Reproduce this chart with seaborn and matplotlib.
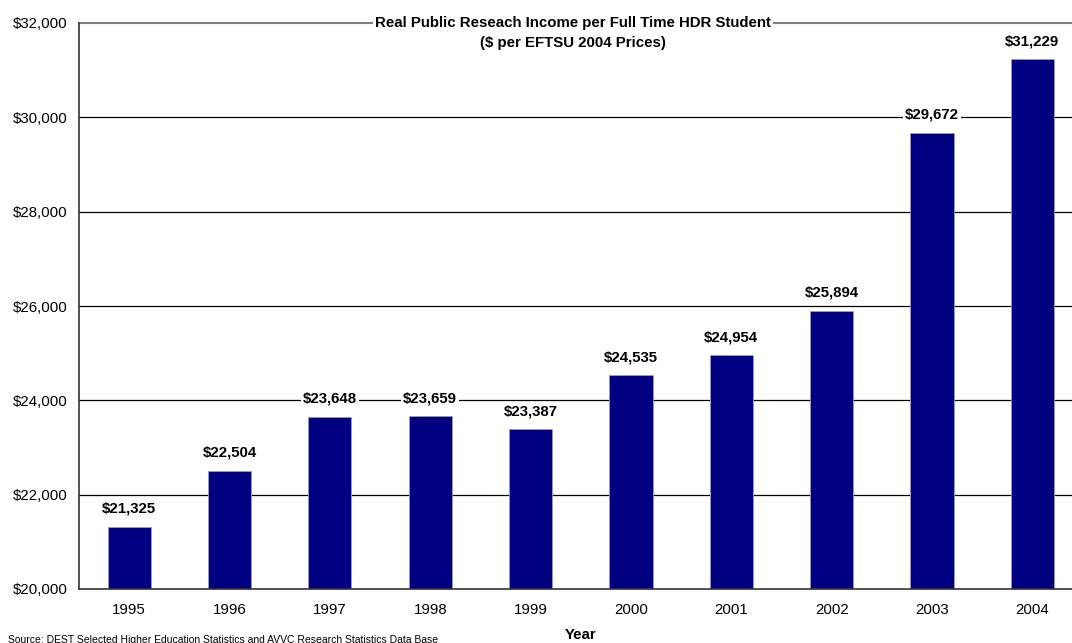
import matplotlib
matplotlib.use("Agg")
import matplotlib.pyplot as plt
import seaborn as sns
import pandas as pd
import numpy as np
from matplotlib.ticker import FuncFormatter, FixedLocator

years = ["1995", "1996", "1997", "1998", "1999", "2000", "2001", "2002", "2003", "2004"]
income = [21325, 22504, 23648, 23659, 23387, 24535, 24954, 25894, 29672, 31229]
y_ticks = [20000, 22000, 24000, 26000, 28000, 30000, 32000]

title = "Real Public Reseach Income per Full Time HDR Student\n($ per EFTSU 2004 Prices)"
source = "Source: DEST Selected Higher Education Statistics and AVVC Research Statistics Data Base"

sns.set_style("white")
plt.rcParams["font.family"] = ["Liberation Sans", "DejaVu Sans"]
plt.rcParams["text.color"] = "black"
plt.rcParams["axes.labelcolor"] = "black"
plt.rcParams["xtick.color"] = "black"
plt.rcParams["ytick.color"] = "black"

FS = 10.8

df = pd.DataFrame({"Year": years, "Income": income})

fig = plt.figure(figsize=(10.72, 6.43), dpi=100)
ax = fig.add_axes([79 / 1072, 54 / 643, 1003.5 / 1072, 566 / 643])

# horizontal gridlines behind the bars
for v in y_ticks[1:-1]:
    ax.axhline(v, color="black", lw=0.9, zorder=0)
ax.axhline(y_ticks[-1], color="#808080", lw=1.5, zorder=0, clip_on=False)

sns.barplot(data=df, x="Year", y="Income", color="#000080", width=0.43,
            edgecolor="#9a9acc", linewidth=0.6, saturation=1, ax=ax, zorder=2)

ax.set_ylim(y_ticks[0], y_ticks[-1])
ax.set_xlim(-0.5, len(years) - 0.5)
ax.yaxis.set_major_locator(FixedLocator(y_ticks))
ax.yaxis.set_major_formatter(FuncFormatter(lambda v, p: f"${v:,.0f}"))

# category ticks sit between the bars
ax.set_xticks(range(len(years)))
ax.set_xticklabels(years)
ax.set_xticks(np.arange(-0.5, len(years), 1.0), minor=True)
ax.tick_params(axis="x", which="major", length=0, pad=10, labelsize=FS, labelcolor="black")
ax.tick_params(axis="x", which="minor", length=5, width=1, color="#333333", direction="out")
ax.tick_params(axis="y", which="major", length=5, width=1, color="#333333",
               direction="out", labelsize=FS, pad=3, labelcolor="black")

for side in ["top", "right"]:
    ax.spines[side].set_visible(False)
for side in ["left", "bottom"]:
    ax.spines[side].set_color("#333333")
    ax.spines[side].set_linewidth(1.2)

ax.set_ylabel("")
ax.set_xlabel("Year", fontsize=FS, fontweight="bold", labelpad=8, color="black")

# value labels above each bar
for i, v in enumerate(income):
    ax.annotate(f"${v:,}", xy=(i, v), xytext=(0, 13), textcoords="offset points",
                ha="center", va="center", fontsize=FS, fontweight="bold", zorder=5,
                color="black", bbox=dict(facecolor="white", edgecolor="none", pad=1.5))

fig.text(573 / 1072, 1 - 33 / 643, title, ha="center", va="center",
         fontsize=FS, fontweight="bold", linespacing=1.6, color="black",
         bbox=dict(facecolor="white", edgecolor="none", pad=1.5), zorder=5)

fig.text(8 / 1072, 1 - 640 / 643, source, ha="left", va="center", fontsize=7.5,
         color="black")

fig.savefig("out.png", dpi=100)
